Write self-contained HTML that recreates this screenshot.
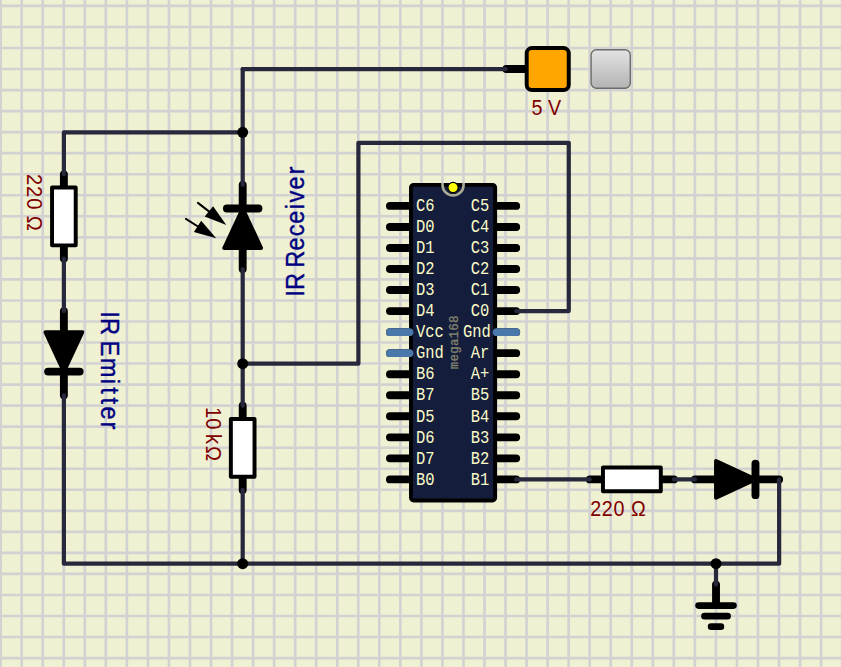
<!DOCTYPE html>
<html lang="en">
<head>
<meta charset="utf-8">
<title>IR emitter / receiver circuit</title>
<style>
html, body { margin: 0; padding: 0; background: #f0f0d2; overflow: hidden; }
body { width: 841px; height: 667px; position: relative; font-family: 'Liberation Sans', sans-serif; }
svg { position: absolute; left: 0; top: 0; display: block; }
</style>
</head>
<body>
<svg width="841" height="667" viewBox="0 0 841 667">
<rect width="841" height="667" fill="#f0f0d2"/>
<g transform="translate(-9.868 -4.588) scale(2.6296)">
<path d="M4 -2V260M12 -2V260M20 -2V260M28 -2V260M36 -2V260M44 -2V260M52 -2V260M60 -2V260M68 -2V260M76 -2V260M84 -2V260M92 -2V260M100 -2V260M108 -2V260M116 -2V260M124 -2V260M132 -2V260M140 -2V260M148 -2V260M156 -2V260M164 -2V260M172 -2V260M180 -2V260M188 -2V260M196 -2V260M204 -2V260M212 -2V260M220 -2V260M228 -2V260M236 -2V260M244 -2V260M252 -2V260M260 -2V260M268 -2V260M276 -2V260M284 -2V260M292 -2V260M300 -2V260M308 -2V260M316 -2V260M324 -2V260M-2 4H330M-2 12H330M-2 20H330M-2 28H330M-2 36H330M-2 44H330M-2 52H330M-2 60H330M-2 68H330M-2 76H330M-2 84H330M-2 92H330M-2 100H330M-2 108H330M-2 116H330M-2 124H330M-2 132H330M-2 140H330M-2 148H330M-2 156H330M-2 164H330M-2 172H330M-2 180H330M-2 188H330M-2 196H330M-2 204H330M-2 212H330M-2 220H330M-2 228H330M-2 236H330M-2 244H330M-2 252H330" fill="none" stroke="#d2d2d2" stroke-width="1"/>
</g>
<g transform="translate(-9.748 -4.448) scale(2.6296)">
<path d="M28 68l0 5" stroke="#000" stroke-width="3" stroke-linecap="round" fill="none"/>
<path d="M28 100l0 -5" stroke="#000" stroke-width="3" stroke-linecap="round" fill="none"/>
<rect x="23.5" y="73" width="9" height="22" fill="#fff" stroke="#000" stroke-width="1.5" stroke-linejoin="round"/>
<g transform="translate(28 136) rotate(90)">
<path d="M-16 0l8 0" stroke="#000" stroke-width="3" stroke-linecap="round" fill="none"/>
<path d="M16 0l-8 0" stroke="#000" stroke-width="3" stroke-linecap="round" fill="none"/>
<path d="M7 0L-8 -7V7Z" fill="#000" stroke="#000" stroke-width="1.5" stroke-linejoin="round"/>
<path d="M7 -6V6" stroke="#000" stroke-width="3" stroke-linecap="round" fill="none"/>
</g>
<g transform="translate(96 88) rotate(-90)">
<path d="M-16 0l8 0" stroke="#000" stroke-width="3" stroke-linecap="round" fill="none"/>
<path d="M16 0l-8 0" stroke="#000" stroke-width="3" stroke-linecap="round" fill="none"/>
<path d="M7 0L-8 -7V7Z" fill="#000" stroke="#000" stroke-width="1.5" stroke-linejoin="round"/>
<path d="M7 -6V6" stroke="#000" stroke-width="3" stroke-linecap="round" fill="none"/>
</g>
<path d="M96 156l0 5" stroke="#000" stroke-width="3" stroke-linecap="round" fill="none"/>
<path d="M96 188l0 -5" stroke="#000" stroke-width="3" stroke-linecap="round" fill="none"/>
<rect x="91.5" y="161" width="9" height="22" fill="#fff" stroke="#000" stroke-width="1.5" stroke-linejoin="round"/>
<path d="M228 184l5 0" stroke="#000" stroke-width="3" stroke-linecap="round" fill="none"/>
<path d="M260 184l-5 0" stroke="#000" stroke-width="3" stroke-linecap="round" fill="none"/>
<rect x="233" y="179.5" width="22" height="9" fill="#fff" stroke="#000" stroke-width="1.5" stroke-linejoin="round"/>
<g transform="translate(284 184) rotate(0)">
<path d="M-16 0l8 0" stroke="#000" stroke-width="3" stroke-linecap="round" fill="none"/>
<path d="M16 0l-8 0" stroke="#000" stroke-width="3" stroke-linecap="round" fill="none"/>
<path d="M7 0L-8 -7V7Z" fill="#000" stroke="#000" stroke-width="1.5" stroke-linejoin="round"/>
<path d="M7 -6V6" stroke="#000" stroke-width="3" stroke-linecap="round" fill="none"/>
</g>
<path d="M78.97 78.85L83.15 82.08" stroke="#000" stroke-width="0.75" stroke-linecap="round" fill="none"/>
<path d="M84.75 80.14L81.55 84.02L89.77 87.29Z" fill="#000"/>
<path d="M74.40 84.94L78.83 87.74" stroke="#000" stroke-width="0.75" stroke-linecap="round" fill="none"/>
<path d="M80.22 85.60L77.44 89.88L85.92 92.28Z" fill="#000"/>
<g transform="translate(0 -0.046)">
<path d="M196.25 28l7.75 0.0" stroke="#000" stroke-width="3" stroke-linecap="round" fill="none"/>
<rect x="204" y="20" width="16" height="16" rx="2" ry="2" fill="#ffa600" stroke="#000" stroke-width="1.5"/>
</g>
<path d="M276 224l0 7" stroke="#000" stroke-width="3" stroke-linecap="round" fill="none"/>
<path d="M269.35 232H282.65" stroke="#000" stroke-width="2.5" stroke-linecap="round" fill="none"/>
<path d="M271.6 236H280.4" stroke="#000" stroke-width="2.5" stroke-linecap="round" fill="none"/>
<path d="M274.13 240H277.87" stroke="#000" stroke-width="2.5" stroke-linecap="round" fill="none"/>
<path d="M152 80l7 0" stroke="#000" stroke-width="3" stroke-linecap="round" fill="none"/>
<path d="M200 80l-7 0" stroke="#000" stroke-width="3" stroke-linecap="round" fill="none"/>
<path d="M152 88l7 0" stroke="#000" stroke-width="3" stroke-linecap="round" fill="none"/>
<path d="M200 88l-7 0" stroke="#000" stroke-width="3" stroke-linecap="round" fill="none"/>
<path d="M152 96l7 0" stroke="#000" stroke-width="3" stroke-linecap="round" fill="none"/>
<path d="M200 96l-7 0" stroke="#000" stroke-width="3" stroke-linecap="round" fill="none"/>
<path d="M152 104l7 0" stroke="#000" stroke-width="3" stroke-linecap="round" fill="none"/>
<path d="M200 104l-7 0" stroke="#000" stroke-width="3" stroke-linecap="round" fill="none"/>
<path d="M152 112l7 0" stroke="#000" stroke-width="3" stroke-linecap="round" fill="none"/>
<path d="M200 112l-7 0" stroke="#000" stroke-width="3" stroke-linecap="round" fill="none"/>
<path d="M152 120l7 0" stroke="#000" stroke-width="3" stroke-linecap="round" fill="none"/>
<path d="M200 120l-7 0" stroke="#000" stroke-width="3" stroke-linecap="round" fill="none"/>
<path d="M152 128l7 0" stroke="#000" stroke-width="3" stroke-linecap="round" fill="none"/>
<path d="M200 128l-7 0" stroke="#000" stroke-width="3" stroke-linecap="round" fill="none"/>
<path d="M152 136l7 0" stroke="#000" stroke-width="3" stroke-linecap="round" fill="none"/>
<path d="M200 136l-7 0" stroke="#000" stroke-width="3" stroke-linecap="round" fill="none"/>
<path d="M152 144l7 0" stroke="#000" stroke-width="3" stroke-linecap="round" fill="none"/>
<path d="M200 144l-7 0" stroke="#000" stroke-width="3" stroke-linecap="round" fill="none"/>
<path d="M152 152l7 0" stroke="#000" stroke-width="3" stroke-linecap="round" fill="none"/>
<path d="M200 152l-7 0" stroke="#000" stroke-width="3" stroke-linecap="round" fill="none"/>
<path d="M152 160l7 0" stroke="#000" stroke-width="3" stroke-linecap="round" fill="none"/>
<path d="M200 160l-7 0" stroke="#000" stroke-width="3" stroke-linecap="round" fill="none"/>
<path d="M152 168l7 0" stroke="#000" stroke-width="3" stroke-linecap="round" fill="none"/>
<path d="M200 168l-7 0" stroke="#000" stroke-width="3" stroke-linecap="round" fill="none"/>
<path d="M152 176l7 0" stroke="#000" stroke-width="3" stroke-linecap="round" fill="none"/>
<path d="M200 176l-7 0" stroke="#000" stroke-width="3" stroke-linecap="round" fill="none"/>
<path d="M152 184l7 0" stroke="#000" stroke-width="3" stroke-linecap="round" fill="none"/>
<path d="M200 184l-7 0" stroke="#000" stroke-width="3" stroke-linecap="round" fill="none"/>
<rect x="160" y="72" width="32" height="120" rx="1" ry="1" fill="#141e3c" stroke="#000" stroke-width="1.5"/>
<path d="M152 128l7.4 0.0" stroke="#4b78aa" stroke-width="3" stroke-linecap="round" fill="none"/>
<path d="M152 136l7.4 0.0" stroke="#4b78aa" stroke-width="3" stroke-linecap="round" fill="none"/>
<path d="M200 128l-7.4 0.0" stroke="#4b78aa" stroke-width="3" stroke-linecap="round" fill="none"/>
<path d="M172 71.8V72A4 4 0 0 0 180 72V71.8" fill="none" stroke="#aaaa96" stroke-width="1" stroke-linecap="square"/>
<circle cx="176" cy="73" r="1.95" fill="#ffff00" stroke="#000" stroke-width="0.45"/>
<path d="M28 68.0 L28 52.0 L96 52.0" fill="none" stroke="#28283c" stroke-width="1.6" stroke-linecap="round" stroke-linejoin="round"/>
<path d="M96 28.0 L96 52.0" fill="none" stroke="#28283c" stroke-width="1.6" stroke-linecap="round" stroke-linejoin="round"/>
<path d="M96 52.0 L96 72.0" fill="none" stroke="#28283c" stroke-width="1.6" stroke-linecap="round" stroke-linejoin="round"/>
<path d="M96 27.954 L196 27.954" fill="none" stroke="#28283c" stroke-width="1.6" stroke-linecap="round" stroke-linejoin="round"/>
<path d="M28 100.0 L28 120.0" fill="none" stroke="#28283c" stroke-width="1.6" stroke-linecap="round" stroke-linejoin="round"/>
<path d="M28 152.046 L28 216.046 L96 216.046" fill="none" stroke="#28283c" stroke-width="1.6" stroke-linecap="round" stroke-linejoin="round"/>
<path d="M96 104.0 L96 140.0" fill="none" stroke="#28283c" stroke-width="1.6" stroke-linecap="round" stroke-linejoin="round"/>
<path d="M96 140.0 L96 156.0" fill="none" stroke="#28283c" stroke-width="1.6" stroke-linecap="round" stroke-linejoin="round"/>
<path d="M96 188.0 L96 216.0" fill="none" stroke="#28283c" stroke-width="1.6" stroke-linecap="round" stroke-linejoin="round"/>
<path d="M96 140.0 L140 140.0 L140 56.0 L220 56.0 L220 120.0 L200 120.0" fill="none" stroke="#28283c" stroke-width="1.6" stroke-linecap="round" stroke-linejoin="round"/>
<path d="M200 184.0 L228 184.0" fill="none" stroke="#28283c" stroke-width="1.6" stroke-linecap="round" stroke-linejoin="round"/>
<path d="M260 184.0 L268 184.0" fill="none" stroke="#28283c" stroke-width="1.6" stroke-linecap="round" stroke-linejoin="round"/>
<path d="M300 184.046 L300 216.046 L276 216.046" fill="none" stroke="#28283c" stroke-width="1.6" stroke-linecap="round" stroke-linejoin="round"/>
<path d="M96 216.046 L276 216.046" fill="none" stroke="#28283c" stroke-width="1.6" stroke-linecap="round" stroke-linejoin="round"/>
<path d="M276 216.0 L276 224.0" fill="none" stroke="#28283c" stroke-width="1.6" stroke-linecap="round" stroke-linejoin="round"/>
<circle cx="96" cy="52.0" r="2.08" fill="#000"/>
<circle cx="96" cy="140.0" r="2.08" fill="#000"/>
<circle cx="96" cy="216.046" r="2.08" fill="#000"/>
<circle cx="276" cy="216.046" r="2.08" fill="#000"/>
</g>
<defs><linearGradient id="bg" x1="0" y1="0" x2="0" y2="1"><stop offset="0" stop-color="#e3e3e3"/><stop offset="1" stop-color="#b3b3b3"/></linearGradient></defs>
<rect x="591.1" y="49.7" width="39.2" height="38.6" rx="5.3" ry="5.3" fill="url(#bg)" stroke="#6c6c6c" stroke-width="1.4"/>
<g>
<text transform="translate(532.30 114.90) scale(0.93 1.0)" x="-0.98 10.81 16.99" y="0" font-family="'Liberation Sans', sans-serif" font-size="21.2" fill="#800000">5 V</text>
<text transform="translate(590.90 515.85) scale(0.93 1.0)" x="-0.73 11.63 24.32 36.11 43.13" y="0" font-family="'Liberation Sans', sans-serif" font-size="21.2" fill="#800000">220 Ω</text>
<text transform="translate(27.20 175.30) rotate(90) scale(0.93 1.0)" x="-1.30 11.65 24.77 36.84 43.59" y="0" font-family="'Liberation Sans', sans-serif" font-size="21.7" fill="#800000">220 Ω</text>
<text transform="translate(205.80 409.90) rotate(90) scale(0.93 1.0)" x="-3.11 9.10 21.17 25.98 38.75" y="0" font-family="'Liberation Sans', sans-serif" font-size="21.7" fill="#800000">10 kΩ</text>
<text transform="translate(100.65 313.10) rotate(90) scale(0.92 1.0)" x="-2.06 5.31 23.94 29.80 48.49 71.27 80.72 91.75 101.66 117.74" y="0" font-family="'Liberation Sans', sans-serif" font-size="25.8" fill="#000080" stroke="#000080" stroke-width="0.4" stroke-linejoin="round">IR Emitter</text>
<text transform="translate(304.25 294.95) rotate(-90) scale(0.92 1.0)" x="-2.02 5.50 24.13 29.44 48.36 63.78 77.36 93.28 100.62 114.59 130.93" y="0" font-family="'Liberation Sans', sans-serif" font-size="25.8" fill="#000080" stroke="#000080" stroke-width="0.4" stroke-linejoin="round">IR Receiver</text>
<text transform="translate(416.10 211.13) scale(0.9 1.06)" x="-0.02 10.26" y="0" font-family="'Liberation Mono', monospace" font-size="17.2" fill="#fafac8">C6</text>
<text transform="translate(470.80 211.13) scale(0.9 1.06)" x="-0.02 10.26" y="0" font-family="'Liberation Mono', monospace" font-size="17.2" fill="#fafac8">C5</text>
<text transform="translate(416.10 232.17) scale(0.9 1.06)" x="-0.02 10.26" y="0" font-family="'Liberation Mono', monospace" font-size="17.2" fill="#fafac8">D0</text>
<text transform="translate(470.80 232.17) scale(0.9 1.06)" x="-0.02 10.26" y="0" font-family="'Liberation Mono', monospace" font-size="17.2" fill="#fafac8">C4</text>
<text transform="translate(416.10 253.20) scale(0.9 1.06)" x="-0.02 10.26" y="0" font-family="'Liberation Mono', monospace" font-size="17.2" fill="#fafac8">D1</text>
<text transform="translate(470.80 253.20) scale(0.9 1.06)" x="-0.02 10.26" y="0" font-family="'Liberation Mono', monospace" font-size="17.2" fill="#fafac8">C3</text>
<text transform="translate(416.10 274.24) scale(0.9 1.06)" x="-0.02 10.26" y="0" font-family="'Liberation Mono', monospace" font-size="17.2" fill="#fafac8">D2</text>
<text transform="translate(470.80 274.24) scale(0.9 1.06)" x="-0.02 10.26" y="0" font-family="'Liberation Mono', monospace" font-size="17.2" fill="#fafac8">C2</text>
<text transform="translate(416.10 295.28) scale(0.9 1.06)" x="-0.02 10.26" y="0" font-family="'Liberation Mono', monospace" font-size="17.2" fill="#fafac8">D3</text>
<text transform="translate(470.80 295.28) scale(0.9 1.06)" x="-0.02 10.26" y="0" font-family="'Liberation Mono', monospace" font-size="17.2" fill="#fafac8">C1</text>
<text transform="translate(416.10 316.31) scale(0.9 1.06)" x="-0.02 10.26" y="0" font-family="'Liberation Mono', monospace" font-size="17.2" fill="#fafac8">D4</text>
<text transform="translate(470.80 316.31) scale(0.9 1.06)" x="-0.02 10.26" y="0" font-family="'Liberation Mono', monospace" font-size="17.2" fill="#fafac8">C0</text>
<text transform="translate(416.10 337.35) scale(0.9 1.06)" x="-0.02 10.26 20.53" y="0" font-family="'Liberation Mono', monospace" font-size="17.2" fill="#fafac8">Vcc</text>
<text transform="translate(463.10 337.35) scale(0.9 1.06)" x="-0.02 10.26 20.53" y="0" font-family="'Liberation Mono', monospace" font-size="17.2" fill="#fafac8">Gnd</text>
<text transform="translate(416.10 358.39) scale(0.9 1.06)" x="-0.02 10.26 20.53" y="0" font-family="'Liberation Mono', monospace" font-size="17.2" fill="#fafac8">Gnd</text>
<text transform="translate(470.80 358.39) scale(0.9 1.06)" x="-0.02 10.26" y="0" font-family="'Liberation Mono', monospace" font-size="17.2" fill="#fafac8">Ar</text>
<text transform="translate(416.10 379.42) scale(0.9 1.06)" x="-0.02 10.26" y="0" font-family="'Liberation Mono', monospace" font-size="17.2" fill="#fafac8">B6</text>
<text transform="translate(470.80 379.42) scale(0.9 1.06)" x="-0.02 10.26" y="0" font-family="'Liberation Mono', monospace" font-size="17.2" fill="#fafac8">A+</text>
<text transform="translate(416.10 400.46) scale(0.9 1.06)" x="-0.02 10.26" y="0" font-family="'Liberation Mono', monospace" font-size="17.2" fill="#fafac8">B7</text>
<text transform="translate(470.80 400.46) scale(0.9 1.06)" x="-0.02 10.26" y="0" font-family="'Liberation Mono', monospace" font-size="17.2" fill="#fafac8">B5</text>
<text transform="translate(416.10 421.50) scale(0.9 1.06)" x="-0.02 10.26" y="0" font-family="'Liberation Mono', monospace" font-size="17.2" fill="#fafac8">D5</text>
<text transform="translate(470.80 421.50) scale(0.9 1.06)" x="-0.02 10.26" y="0" font-family="'Liberation Mono', monospace" font-size="17.2" fill="#fafac8">B4</text>
<text transform="translate(416.10 442.53) scale(0.9 1.06)" x="-0.02 10.26" y="0" font-family="'Liberation Mono', monospace" font-size="17.2" fill="#fafac8">D6</text>
<text transform="translate(470.80 442.53) scale(0.9 1.06)" x="-0.02 10.26" y="0" font-family="'Liberation Mono', monospace" font-size="17.2" fill="#fafac8">B3</text>
<text transform="translate(416.10 463.57) scale(0.9 1.06)" x="-0.02 10.26" y="0" font-family="'Liberation Mono', monospace" font-size="17.2" fill="#fafac8">D7</text>
<text transform="translate(470.80 463.57) scale(0.9 1.06)" x="-0.02 10.26" y="0" font-family="'Liberation Mono', monospace" font-size="17.2" fill="#fafac8">B2</text>
<text transform="translate(416.10 484.61) scale(0.9 1.06)" x="-0.02 10.26" y="0" font-family="'Liberation Mono', monospace" font-size="17.2" fill="#fafac8">B0</text>
<text transform="translate(470.80 484.61) scale(0.9 1.06)" x="-0.02 10.26" y="0" font-family="'Liberation Mono', monospace" font-size="17.2" fill="#fafac8">B1</text>
<text transform="translate(458.35 369.30) rotate(-90) scale(1.0 1.0)" x="0.10 7.80 15.50 23.20 30.90 38.60 46.30" y="0" font-family="'Liberation Mono', monospace" font-size="12.5" fill="#82826e" stroke="#82826e" stroke-width="0.3">mega168</text>
</g>
</svg>
</body>
</html>
